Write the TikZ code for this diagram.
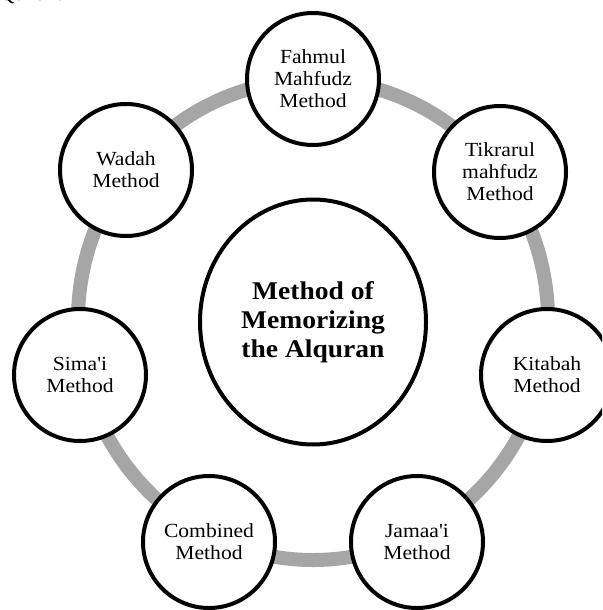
\documentclass[tikz,border=0pt]{standalone}
\usepackage{fontspec}
\setmainfont[FakeStretch=1.08, Ligatures=TeXOff]{Liberation Serif}
\usetikzlibrary{shapes.geometric}
\tikzset{
  ringline/.style={draw=black!35, line width=14pt},
  methodnode/.style={circle, draw=black, line width=4pt, fill=white,
    minimum size=132pt, inner sep=0pt, align=center,
    font=\fontsize{20}{22}\selectfont},
  hubnode/.style={ellipse, draw=black, line width=4pt, fill=white,
    minimum width=226pt, minimum height=245pt, inner sep=0pt, align=center,
    font=\bfseries\fontsize{25.5}{29}\selectfont},
  fragtext/.style={anchor=base west, inner sep=0pt,
    font=\fontsize{20}{22}\selectfont}
}
\begin{document}
\begin{tikzpicture}[x=1pt, y=-1pt]
\useasboundingbox (0,0) rectangle (602,610);
\clip (0,0) rectangle (602,610);
\node[fragtext] (frag) at (-1,1) {Qur'an.};
\coordinate (ringc) at (313,320);
\draw[ringline] (ringc) ellipse [x radius=235pt, y radius=240pt];
\node[hubnode] (hub) at (313,322) {Method of\\Memorizing\\the Alquran};
\node[methodnode] (fahmul) at (313,79) {Fahmul\\Mahfudz\\Method};
\node[methodnode] (tikrar) at (500,172) {Tikrarul\\mahfudz\\Method};
\node[methodnode] (kitabah) at (547,375) {Kitabah\\Method};
\node[methodnode] (jamaai) at (417,542) {Jamaa'i\\Method};
\node[methodnode] (combined) at (209,542) {Combined\\Method};
\node[methodnode] (simai) at (80,375) {Sima'i\\Method};
\node[methodnode] (wadah) at (126,170) {Wadah\\Method};
\end{tikzpicture}
\end{document}
